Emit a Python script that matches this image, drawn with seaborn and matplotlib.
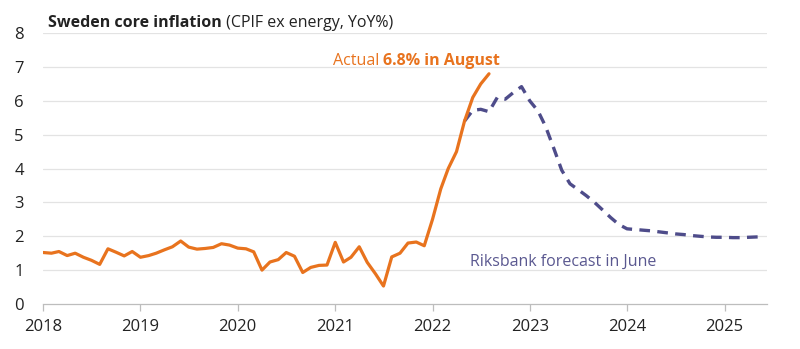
import numpy as np
import pandas as pd
import matplotlib
matplotlib.use("Agg")
import matplotlib.pyplot as plt
import seaborn as sns

# ---- data ----
actual_start = "2018-01-01"
actual_values = [
    1.52, 1.50, 1.55, 1.43, 1.50, 1.38, 1.29, 1.17, 1.63, 1.53, 1.42, 1.55,
    1.38, 1.43, 1.50, 1.60, 1.69, 1.86, 1.68, 1.62, 1.64, 1.67, 1.78, 1.74,
    1.65, 1.63, 1.54, 1.00, 1.24, 1.31, 1.52, 1.41, 0.93, 1.08, 1.14, 1.15,
    1.82, 1.24, 1.38, 1.69, 1.23, 0.89, 0.53, 1.39, 1.50, 1.80, 1.83, 1.72,
    2.50, 3.40, 4.00, 4.50, 5.40, 6.10, 6.50, 6.80,
]
forecast_start = "2022-05-01"
forecast_values = [
    5.40, 5.72, 5.75, 5.68, 6.10, 6.05, 6.25, 6.42,
    6.00, 5.70, 5.25, 4.60, 3.95, 3.55, 3.38, 3.20, 3.00, 2.78, 2.55, 2.35,
    2.22, 2.20, 2.18, 2.16, 2.13, 2.10, 2.07, 2.05, 2.02, 2.00, 1.98, 1.97,
    1.97, 1.96, 1.96, 1.97, 1.98, 1.99,
]
year_ticks = ["2018", "2019", "2020", "2021", "2022", "2023", "2024", "2025"]
y_ticks = [0, 1, 2, 3, 4, 5, 6, 7, 8]

actual = pd.DataFrame({
    "date": pd.date_range(actual_start, periods=len(actual_values), freq="MS"),
    "value": actual_values,
})
forecast = pd.DataFrame({
    "date": pd.date_range(forecast_start, periods=len(forecast_values), freq="MS"),
    "value": forecast_values,
})

sns.set_theme(style="white")
FONT = ["Open Sans", "DejaVu Sans"]
plt.rcParams["font.family"] = FONT

ORANGE = "#E8731E"
PURPLE = "#4E4C8A"
GRID = "#E3E3E3"
AXIS = "#BDBDBD"
TEXT = "#222222"

fig = plt.figure(figsize=(8.0, 3.49), dpi=100)
ax = fig.add_axes([0.054, 0.129, 0.905, 0.776])

sns.lineplot(data=forecast, x="date", y="value", ax=ax, color=PURPLE,
             linewidth=2.4, linestyle=(0, (3.2, 2.2)), zorder=3)
sns.lineplot(data=actual, x="date", y="value", ax=ax, color=ORANGE,
             linewidth=2.3, zorder=4, solid_capstyle="round")

ax.set_xlim(pd.Timestamp("2018-01-01"), pd.Timestamp("2025-06-10"))
ax.set_ylim(0, 8)
ax.set_yticks(y_ticks)
ax.set_yticklabels([str(v) for v in y_ticks])
ax.set_xticks([pd.Timestamp(f"{y}-01-01") for y in year_ticks])
ax.set_xticklabels(year_ticks)
ax.set_xlabel("")
ax.set_ylabel("")

for v in y_ticks[1:]:
    ax.axhline(v, color=GRID, linewidth=0.9, zorder=0)

for side in ["top", "right", "left"]:
    ax.spines[side].set_visible(False)
ax.spines["bottom"].set_color(AXIS)
ax.spines["bottom"].set_linewidth(0.9)

ax.tick_params(axis="y", length=0, pad=14, labelsize=12, labelcolor=TEXT)
ax.tick_params(axis="x", length=5, width=0.9, color=AXIS, pad=6,
               labelsize=12, labelcolor=TEXT, direction="out", bottom=True)

# title
t1 = fig.text(0.06, 0.912, "Sweden core inflation", fontsize=11.5,
              fontweight="bold", color=TEXT, va="bottom", ha="left")
ax.annotate(" (CPIF ex energy, YoY%)", xy=(1, 0), xycoords=t1,
            fontsize=11.5, color=TEXT, va="bottom", ha="left",
            annotation_clip=False)

# annotations
a1 = ax.annotate("Actual ", xy=(pd.Timestamp("2020-12-22"), 6.95),
                 fontsize=11.5, color=ORANGE, ha="left", va="bottom")
ax.annotate("6.8% in August", xy=(1, 0), xycoords=a1, fontsize=11.5,
            color=ORANGE, fontweight="bold", ha="left", va="bottom")
ax.text(pd.Timestamp("2022-05-20"), 1.0, "Riksbank forecast in June",
        fontsize=11.5, color="#5A5890", ha="left", va="bottom")

fig.savefig("out.png", dpi=100, facecolor="white")
